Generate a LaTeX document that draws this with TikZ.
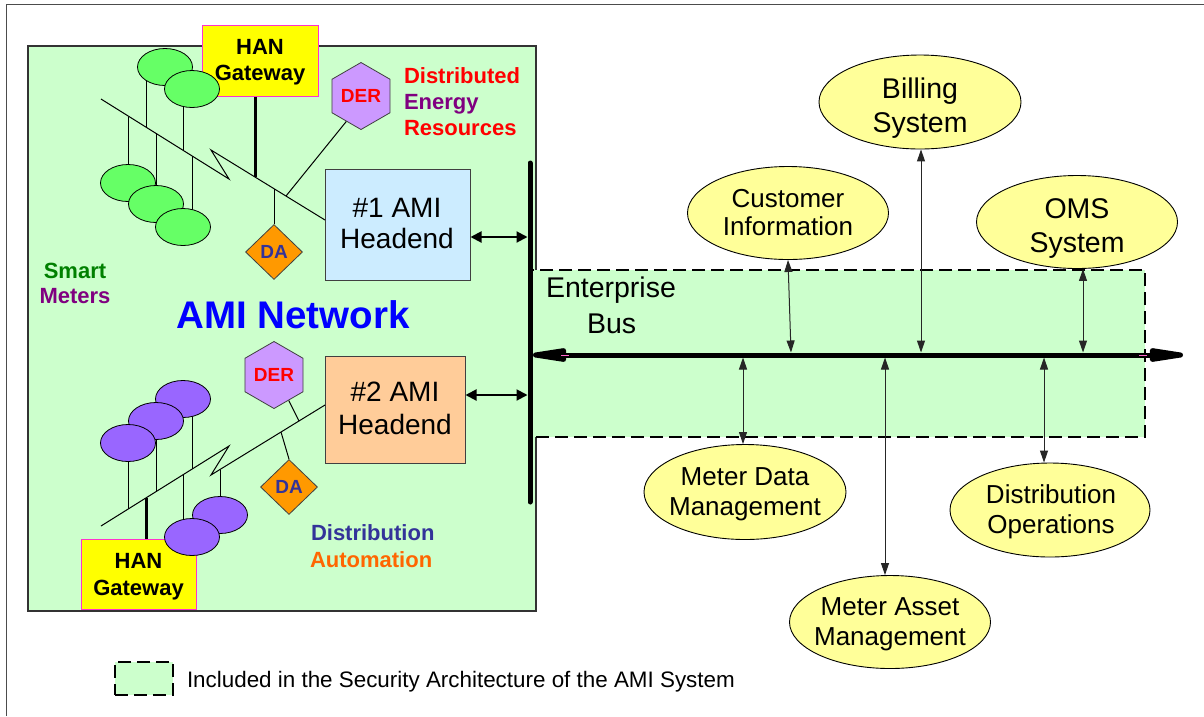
\documentclass[tikz,border=0pt]{standalone}
\usepackage{fontspec}
\setmainfont{Liberation Sans}
\usetikzlibrary{shapes.geometric,arrows.meta}
\definecolor{amig}{HTML}{CCFFCC}
\definecolor{hbone}{HTML}{CCECFF}
\definecolor{hbtwo}{HTML}{FFCC99}
\definecolor{yel}{HTML}{FFFF99}
\definecolor{mgreen}{HTML}{66FF66}
\definecolor{mpurple}{HTML}{9966FF}
\definecolor{derfill}{HTML}{CC99FF}
\definecolor{dafill}{HTML}{FF9900}
\definecolor{hanfill}{HTML}{FFFF00}
\definecolor{hanborder}{HTML}{FF33CC}
\definecolor{tred}{HTML}{FF0000}
\definecolor{tpurple}{HTML}{800080}
\definecolor{tgreen}{HTML}{008000}
\definecolor{tblue}{HTML}{0000FF}
\definecolor{tnavy}{HTML}{333399}
\definecolor{torange}{HTML}{FF6600}
\definecolor{shapeline}{HTML}{404040}
\definecolor{pinkmark}{HTML}{FF66CC}
\begin{document}
\begin{tikzpicture}[x=1pt,y=-1pt,
  txt/.style={anchor=base,inner sep=0pt,outer sep=0pt},
  bl/.style={txt,font=\fontsize{22}{26}\selectfont\bfseries},
  hdtxt/.style={txt,font=\fontsize{28}{32}\selectfont},
  eltxt/.style={txt,font=\fontsize{26}{30}\selectfont},
  eltxtbig/.style={txt,font=\fontsize{28.5}{32}\selectfont},
  meter/.style={ellipse,draw=black,line width=0.8pt,minimum width=55pt,minimum height=37pt,inner sep=0pt},
  sysell/.style={ellipse,draw=black,line width=0.9pt,fill=yel,inner sep=0pt},
  hanbox/.style={rectangle,draw=hanborder,line width=1pt,fill=hanfill,inner sep=0pt},
  hdbox/.style={rectangle,draw=shapeline,line width=1pt,inner sep=0pt},
  derhex/.style={regular polygon,regular polygon sides=6,shape border rotate=30,draw=shapeline,line width=0.8pt,fill=derfill,minimum size=67pt,inner sep=0pt,text=tred,font=\fontsize{19}{22}\selectfont\bfseries},
  dadia/.style={diamond,draw=shapeline,line width=0.8pt,fill=dafill,minimum width=57pt,minimum height=55pt,inner sep=0pt,text=tnavy,font=\fontsize{19}{22}\selectfont\bfseries},
  feeder/.style={draw=black,line width=1pt},
  gwline/.style={draw=black,line width=3pt},
  conn/.style={draw=black!85,line width=1pt,{Triangle[length=12pt,width=8pt]}-{Triangle[length=12pt,width=8pt]}},
  hdarrow/.style={draw=black,line width=2pt,{Triangle[length=11pt,width=11pt]}-{Triangle[length=11pt,width=11pt]}},
  secbox/.style={draw=black,line width=1.5pt,dash pattern=on 13pt off 6pt,fill=amig}
]
\useasboundingbox (0,0) rectangle (1204,716);
\fill[white] (0,0) rectangle (1204,716);
% outer frame
\draw[black!70,line width=1pt] (6,716) -- (6,4) -- (1204,4);
% AMI network box
\draw[draw=black!80,line width=1.5pt,fill=amig] (28,46) rectangle (536,611);
% enterprise bus area
\draw[secbox] (532,270) rectangle (1145,437);

% ---------- right side systems ----------
\node (bill) [sysell,minimum width=202pt,minimum height=94pt] at (920,102) {};
\node (cust) [sysell,minimum width=201pt,minimum height=93pt] at (788,213) {};
\node (oms) [sysell,minimum width=201pt,minimum height=93pt] at (1077,222) {};
\node (mdm) [sysell,minimum width=202pt,minimum height=95pt] at (745,492) {};
\node (dops) [sysell,minimum width=200pt,minimum height=94pt] at (1050,510) {};
\node (masset) [sysell,minimum width=201pt,minimum height=93pt] at (890,622) {};

\node (billa) [eltxtbig] at (920,98) {Billing};
\node (billb) [eltxtbig] at (920,132) {System};
\node (custa) [eltxt] at (788,207) {Customer};
\node (custb) [eltxt] at (788,235) {Information};
\node (omsa) [eltxtbig] at (1077,218) {OMS};
\node (omsb) [eltxtbig] at (1077,252) {System};
\node (mdma) [eltxt] at (745,485) {Meter Data};
\node (mdmb) [eltxt] at (745,515) {Management};
\node (dopsa) [eltxt] at (1051,503) {Distribution};
\node (dopsb) [eltxt] at (1051,533) {Operations};
\node (masseta) [eltxt] at (890,615) {Meter Asset};
\node (massetb) [eltxt] at (890,645) {Management};

\node (enta) [txt,anchor=base west,font=\fontsize{28.5}{32}\selectfont] at (546,297) {Enterprise};
\node (entb) [txt,anchor=base west,font=\fontsize{28.5}{32}\selectfont] at (587,333) {Bus};

% bus attach points
\coordinate (bcust) at (791,352.5);
\coordinate (bbill) at (921,352.5);
\coordinate (boms) at (1083,352.5);
\coordinate (bmdm) at (743,357.5);
\coordinate (bmasset) at (885,357.5);
\coordinate (bdops) at (1044,357.5);

\draw[conn] (cust.south) -- (bcust);
\draw[conn] (bill.south -| bbill) -- (bbill);
\draw[conn] (boms |- oms.south) -- (boms);
\draw[conn] (bmdm) -- (bmdm |- mdm.north);
\draw[conn] (bmasset) -- (bmasset |- masset.north);
\draw[conn] (bdops) -- (bdops |- dops.north);

% horizontal enterprise bus
\coordinate (hbl) at (533,355);
\coordinate (hbr) at (1183,355);
\draw[line width=5pt,{Triangle[length=50pt 0 0,width=13pt 0 0,round]}-{Triangle[length=50pt 0 0,width=13pt 0 0,round]}] (hbl) -- (hbr);
\coordinate (pkl) at (561,355);
\coordinate (pkr) at (1147,355);
\draw[pinkmark,line width=1pt] (pkl) -- ++(8,0);
\draw[pinkmark,line width=1pt] (pkr) -- ++(-8,0);

% vertical bus
\coordinate (busTop) at (530,163);
\coordinate (busBot) at (530,502);
\draw[line width=5pt,line cap=round] (busTop) -- (busBot);

% ---------- headends ----------
\node (h1) [hdbox,fill=hbone,minimum width=145pt,minimum height=111pt] at (397.5,224.5) {};
\node (h2) [hdbox,fill=hbtwo,minimum width=140pt,minimum height=107pt] at (395,409.5) {};
\node (h1a) [hdtxt] at (397,217) {\#1 AMI};
\node (h1b) [hdtxt] at (397,248) {Headend};
\node (h2a) [hdtxt] at (395,401) {\#2 AMI};
\node (h2b) [hdtxt] at (395,434) {Headend};
\draw[hdarrow,shorten >=2.5pt] (h1.east |- 0,237) -- (busTop |- 0,237);
\draw[hdarrow,shorten >=2.5pt] (h2.east |- 0,395) -- (busTop |- 0,395);

% ---------- top AMI cluster ----------
\coordinate (fA) at (101,99);
\coordinate (fB) at (229,179);
\coordinate (fC) at (211,150);
\coordinate (fD) at (325,220);
\draw[feeder] (fA) -- (fB) -- (fC) -- (fD);
% drops
\draw[feeder] (146,70) -- (146,127.1);
\draw[feeder] (183,89) -- (183,150.3);
\draw[feeder] (128,116.9) -- (128,183);
\draw[feeder] (156,133.4) -- (156,204);
\draw[feeder] (192,155.9) -- (192,227);
% HAN gateway (top)
\node (hanA) [hanbox,minimum width=116pt,minimum height=71pt] at (260,60.5) {};
\coordinate (gwA) at (255,177);
\draw[gwline] (hanA.south -| gwA) -- (gwA);
\node (hanAa) [bl] at (260,54) {HAN};
\node (hanAb) [bl] at (260,80) {Gateway};
% meters
\node (m1) [meter,fill=mgreen] at (165,67) {};
\node (m2) [meter,fill=mgreen] at (192,89) {};
\node (m3) [meter,fill=mgreen] at (128,183) {};
\node (m4) [meter,fill=mgreen] at (156,204) {};
\node (m5) [meter,fill=mgreen] at (183,227) {};
% DER / DA
\node (derA) [derhex] at (361,96) {DER};
\coordinate (derAf) at (286,196);
\draw[feeder] (derA.-120) -- (derAf);
\coordinate (daAf) at (274,189);
\node (daA) [dadia] at (274,252) {DA};
\draw[feeder] (daA.north) -- (daAf);

% ---------- bottom AMI cluster ----------
\coordinate (gA) at (101,526);
\coordinate (gB) at (229,446);
\coordinate (gC) at (211,475);
\coordinate (gD) at (325,405);
\draw[feeder] (gA) -- (gB) -- (gC) -- (gD);
\draw[feeder] (128,443) -- (128,509.1);
\draw[feeder] (156,421) -- (156,491.6);
\draw[feeder] (192,399) -- (192,469.1);
\draw[feeder] (183,474.8) -- (183,537);
\draw[feeder] (220,469.5) -- (220,515);
\node (hanB) [hanbox,minimum width=115pt,minimum height=70pt] at (138.5,574) {};
\coordinate (gwB) at (146,497.9);
\draw[gwline] (gwB) -- (gwB |- hanB.north);
\node (hanBa) [bl] at (138.5,568) {HAN};
\node (hanBb) [bl] at (138.5,595) {Gateway};
\node (m6) [meter,fill=mpurple] at (183,399) {};
\node (m7) [meter,fill=mpurple] at (156,421) {};
\node (m8) [meter,fill=mpurple] at (128,443) {};
\node (m9) [meter,fill=mpurple] at (220,515) {};
\node (m10) [meter,fill=mpurple] at (192,537) {};
\node (derB) [derhex] at (274,375) {DER};
\coordinate (derBf) at (299,421);
\draw[feeder] (derB.-60) -- (derBf);
\node (daB) [dadia] at (289,487) {DA};
\coordinate (daBf) at (281,432);
\draw[feeder] (daB.north) -- (daBf);

% ---------- labels ----------
\node (lda) [bl,anchor=base west,text=tred] at (404,83) {Distributed};
\node (ldb) [bl,anchor=base west,text=tpurple] at (404,109) {Energy};
\node (ldc) [bl,anchor=base west,text=tred] at (404,135) {Resources};
\node (lsa) [bl,text=tgreen] at (75,278) {Smart};
\node (lsb) [bl,text=tpurple] at (75,303) {Meters};
\node (lami) [txt,font=\fontsize{38.5}{42}\selectfont\bfseries,text=tblue] at (293,328) {AMI Network};
\node (lxa) [bl,anchor=base west,text=tnavy] at (311,540) {Distribution};
\node (lxb) [bl,anchor=base west,text=torange] at (310,567) {Automation};

% ---------- legend ----------
\node (leg) [secbox,rectangle,minimum width=58pt,minimum height=33pt,inner sep=0pt] at (144,678.5) {};
\node (legt) [txt,anchor=base west,font=\fontsize{22.4}{26}\selectfont] at (187,687) {Included in the Security Architecture of the AMI System};
\end{tikzpicture}
\end{document}
